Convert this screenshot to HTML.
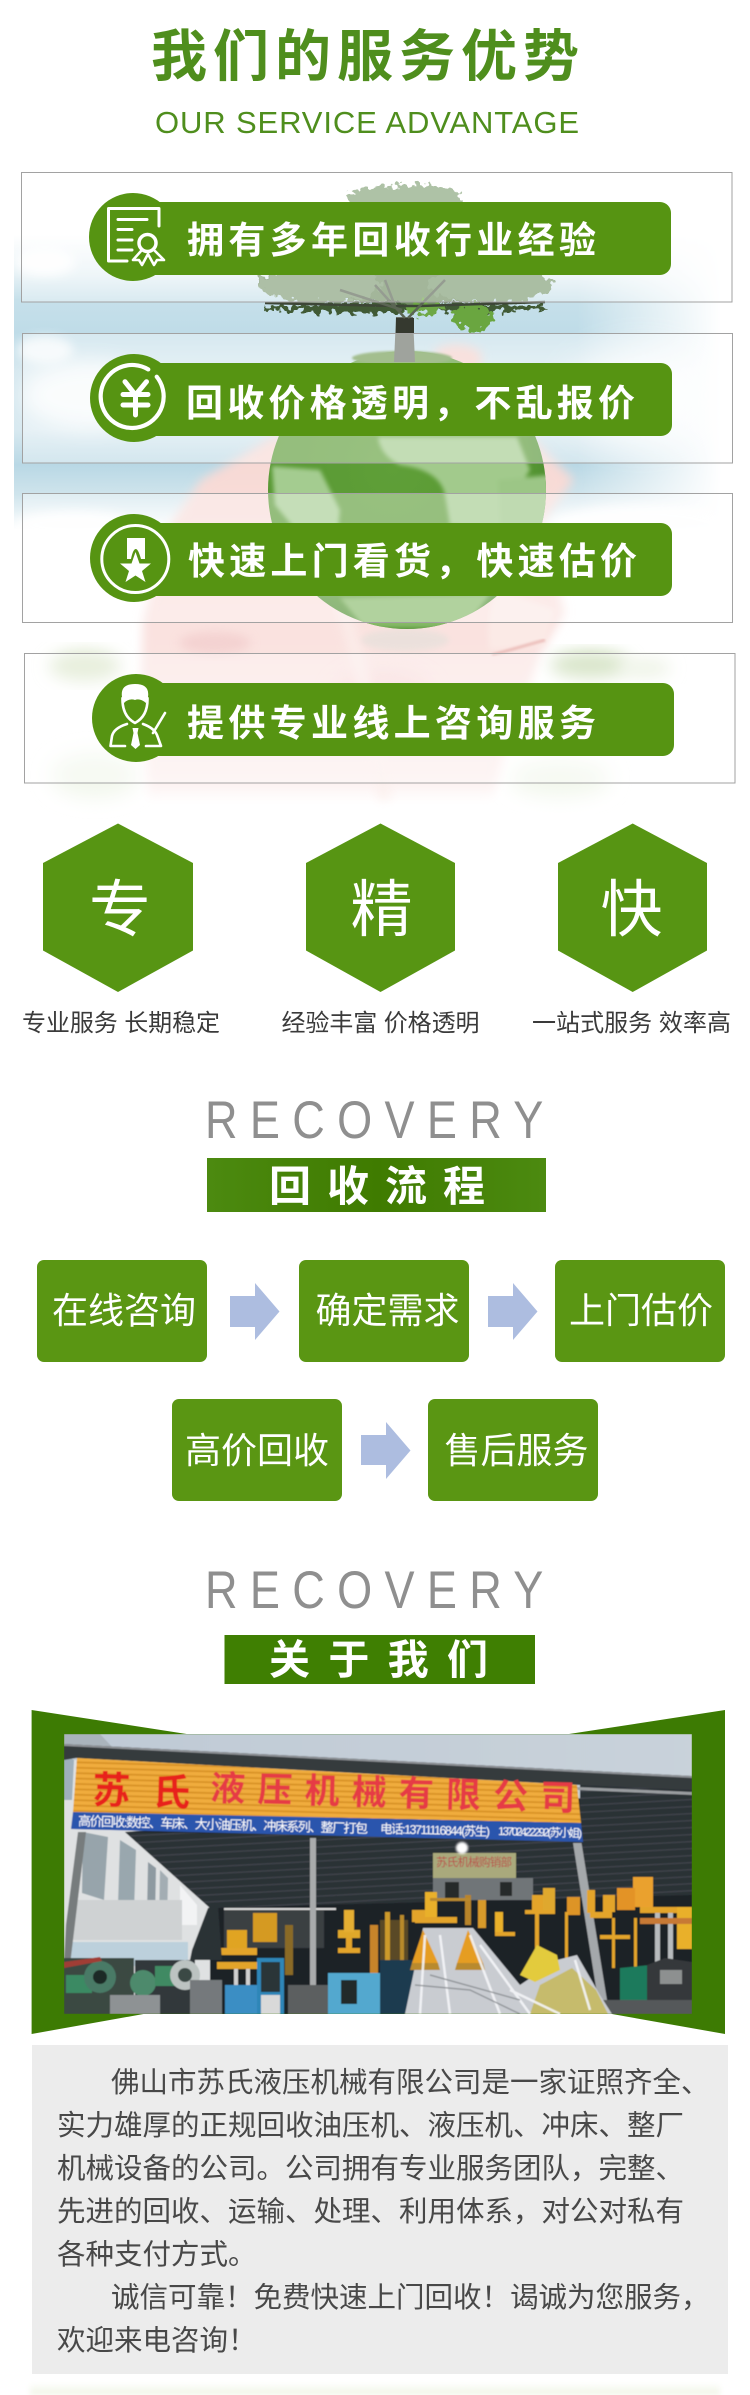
<!DOCTYPE html>
<html lang="zh-CN"><head><meta charset="utf-8"><title>我们的服务优势</title>
<style>
html,body{margin:0;padding:0;background:#fff}
svg{display:block}
text{font-family:"Liberation Sans","Noto Sans CJK SC",sans-serif}
.b{font-weight:700}
.w{fill:#fff}
.p{fill:#484848;font-size:28.5px}
.c{fill:#3a3a3a;font-size:24px}
.pt{fill:#fff;font-size:36px}
.pill{fill:#569412}
.proc{fill:#5a9613}
.arr{fill:#adbde0}
.hex{fill:#579513}
.box{fill:rgba(255,255,255,.36);stroke:#a2a2a2;stroke-width:1}
.ic{fill:none;stroke:#fff;stroke-linecap:round;stroke-linejoin:round}
</style></head><body>
<svg xmlns="http://www.w3.org/2000/svg" width="750" height="2395" viewBox="0 0 750 2395">
<defs>
<filter id="b3" x="-20%" y="-20%" width="140%" height="140%"><feGaussianBlur stdDeviation="3"/></filter>
<filter id="b5" x="-30%" y="-30%" width="160%" height="160%"><feGaussianBlur stdDeviation="5"/></filter>
<filter id="b8" x="-30%" y="-30%" width="160%" height="160%"><feGaussianBlur stdDeviation="8"/></filter>
<filter id="b10" x="-50%" y="-50%" width="200%" height="200%"><feGaussianBlur stdDeviation="10"/></filter>
<filter id="b20" x="-60%" y="-60%" width="220%" height="220%"><feGaussianBlur stdDeviation="20"/></filter>
<filter id="b1"><feGaussianBlur stdDeviation="1"/></filter>
<filter id="b2" x="-10%" y="-10%" width="120%" height="120%"><feGaussianBlur stdDeviation="2.2"/></filter>
<filter id="b05"><feGaussianBlur stdDeviation=".55"/></filter>
<filter id="rough" x="-10%" y="-30%" width="120%" height="160%">
<feTurbulence type="fractalNoise" baseFrequency=".14" numOctaves="2" seed="4"/>
<feDisplacementMap in="SourceGraphic" scale="16" xChannelSelector="R" yChannelSelector="G"/>
</filter>
<linearGradient id="sky" x1="0" y1="0" x2="0" y2="1">
<stop offset="0" stop-color="#fff"/><stop offset=".135" stop-color="#e6f1f5"/><stop offset=".22" stop-color="#c6e0ea"/><stop offset=".33" stop-color="#bfdce8"/><stop offset=".46" stop-color="#d6e8ef"/><stop offset=".66" stop-color="#d8e9f0"/><stop offset=".78" stop-color="#b9d8e5"/><stop offset=".88" stop-color="#cfe4ec"/><stop offset="1" stop-color="#fff"/>
</linearGradient>
<linearGradient id="hfade" gradientUnits="userSpaceOnUse" x1="14" y1="0" x2="736" y2="0">
<stop offset="0" stop-color="#fff"/><stop offset=".78" stop-color="#fff"/><stop offset=".98" stop-color="#000"/>
</linearGradient>
<mask id="skym" maskUnits="userSpaceOnUse" x="0" y="200" width="750" height="360"><rect x="0" y="200" width="750" height="360" fill="url(#hfade)"/></mask>
<linearGradient id="hand" gradientUnits="userSpaceOnUse" x1="0" y1="340" x2="0" y2="802">
<stop offset="0" stop-color="#f5cfc9"/><stop offset=".35" stop-color="#f8dcd8"/><stop offset=".7" stop-color="#fae3e1"/><stop offset=".95" stop-color="#fcefee"/><stop offset="1" stop-color="#fff"/>
</linearGradient>
<radialGradient id="globe" cx=".45" cy=".42" r=".62">
<stop offset="0" stop-color="#5f9f38"/><stop offset=".75" stop-color="#589833"/><stop offset="1" stop-color="#4a8a30"/>
</radialGradient>
<linearGradient id="ban1" x1="0" y1="0" x2="1" y2="0">
<stop offset="0" stop-color="#4c8a10"/><stop offset=".5" stop-color="#3f7b00"/><stop offset="1" stop-color="#4c8a10"/>
</linearGradient>
<linearGradient id="glow" x1="0" y1="0" x2="0" y2="1">
<stop offset="0" stop-color="#fff"/><stop offset="1" stop-color="#eef3e2"/>
</linearGradient>
<linearGradient id="photosky" x1="0" y1="0" x2="1" y2="0">
<stop offset="0" stop-color="#bfcad6"/><stop offset="1" stop-color="#c9d2da"/>
</linearGradient>
<pattern id="stripes" width="8" height="5.4" patternUnits="userSpaceOnUse" patternTransform="rotate(1.6)">
<rect width="8" height="5.4" fill="#f0ac3c"/><rect y="3.6" width="8" height="1.8" fill="#d99327"/>
</pattern>
<pattern id="ceil" width="8" height="7" patternUnits="userSpaceOnUse" patternTransform="rotate(-3)">
<rect width="8" height="7" fill="#2b3036"/><rect y="5.5" width="8" height="1.5" fill="#3d4248"/>
</pattern>
<clipPath id="photo"><rect x="64" y="1734" width="628" height="280"/></clipPath>
<clipPath id="globeclip"><circle cx="407" cy="490" r="139"/></clipPath>
</defs>

<rect width="750" height="2395" fill="#fff"/>

<!-- background scene -->
<g>
<g mask="url(#skym)"><rect x="14" y="235" width="722" height="295" fill="url(#sky)"/></g>
<ellipse cx="45" cy="262" rx="30" ry="14" fill="#fff" opacity=".9" filter="url(#b5)"/>
<ellipse cx="90" cy="395" rx="68" ry="34" fill="#fff" opacity=".8" filter="url(#b10)"/>
<ellipse cx="45" cy="350" rx="28" ry="14" fill="#fff" opacity=".75" filter="url(#b5)"/>
<ellipse cx="640" cy="395" rx="70" ry="42" fill="#fff" opacity=".8" filter="url(#b20)"/>
<ellipse cx="75" cy="525" rx="60" ry="14" fill="#fff" opacity=".9" filter="url(#b5)"/>
<ellipse cx="640" cy="525" rx="90" ry="20" fill="#fff" opacity=".9" filter="url(#b5)"/>
<!-- distant trees -->
<ellipse cx="85" cy="666" rx="36" ry="15" fill="#dbe6ca" filter="url(#b8)"/>
<ellipse cx="590" cy="665" rx="40" ry="13" fill="#c4d8ad" filter="url(#b8)"/>
<ellipse cx="645" cy="668" rx="26" ry="10" fill="#e6eedb" filter="url(#b8)"/>
<ellipse cx="95" cy="775" rx="44" ry="22" fill="#f2f7ec" filter="url(#b10)"/>
<ellipse cx="560" cy="778" rx="50" ry="18" fill="#f2f7ec" filter="url(#b10)"/>
<!-- hand -->
<path d="M148,800 L141,680 L143,620 L167,530 L201,480 L273,437 L435,420 L435,350 Q458,338 481,352 L481,372 L531,437 L574,480 L541,523 L565,613 L541,653 L502,763 L493,800 Z" fill="url(#hand)" filter="url(#b5)"/>
<ellipse cx="215" cy="643" rx="36" ry="11" fill="#f0c8c8" opacity=".6" filter="url(#b5)"/>
<ellipse cx="383" cy="695" rx="50" ry="24" fill="#f5ced0" opacity=".55" filter="url(#b10)"/>
<path d="M340,600 Q370,690 385,800" stroke="#fcefec" stroke-width="14" fill="none" opacity=".7" filter="url(#b5)"/>
<path d="M495,590 Q485,625 490,650 L545,645 L555,610 Q530,600 495,590 Z" fill="#fbeae6" filter="url(#b3)"/>
<path d="M492,655 L545,640" stroke="#ecc0bc" stroke-width="3" fill="none" filter="url(#b1)"/>
<ellipse cx="405" cy="640" rx="44" ry="11" fill="#e2e0da" opacity=".6" filter="url(#b3)"/>
<!-- globe -->
<circle cx="407" cy="490" r="139" fill="url(#globe)"/>
<g clip-path="url(#globeclip)" filter="url(#b2)">
<path d="M378,437 L517,437 L530,470 L510,500 L498,530 L450,525 L445,495 Q440,470 400,465 Q380,455 378,437 Z" fill="#a2ca8c"/>
<path d="M272,466 L320,470 L340,510 L338,530 L300,535 L275,505 Z" fill="#a4cc90"/>
<path d="M498,480 L550,475 L550,530 L500,530 Z" fill="#9cc686"/>
<path d="M340,598 L490,594 L465,628 L365,628 Z" fill="#86b968"/>
</g>
<ellipse cx="402" cy="358" rx="50" ry="7" fill="#6f9a4f" filter="url(#b1)"/>
<!-- tree -->
<path d="M396,317 L394,362 L415,362 L413,317 Z" fill="#6a6f66"/>
<rect x="396" y="318" width="18" height="15" fill="#35392f"/>
<g filter="url(#rough)">
<ellipse cx="405" cy="198" rx="58" ry="13" fill="#80a074"/>
<ellipse cx="405" cy="282" rx="146" ry="21" fill="#6f8d62"/>
<ellipse cx="320" cy="285" rx="60" ry="18" fill="#7f9c74"/>
<ellipse cx="490" cy="285" rx="62" ry="18" fill="#7a9970"/>
<ellipse cx="405" cy="308" rx="143" ry="5" fill="#415a34"/>
<ellipse cx="474" cy="318" rx="20" ry="14" fill="#6ba640"/>
<ellipse cx="425" cy="308" rx="22" ry="7" fill="#6ea845"/>
</g>
<path d="M265,303 L395,306 L420,306 L545,302" stroke="#3d4637" stroke-width="2.5" fill="none"/>
<path d="M405,318 L375,285 M408,318 L445,280 M402,310 L340,290 M395,306 L385,280" stroke="#5a6553" stroke-width="2.5" fill="none"/>
</g>

<!-- heading -->
<text class="b" x="151" y="76" font-size="56" fill="#4f8e1d" textLength="428" lengthAdjust="spacing">我们的服务优势</text>
<text x="155" y="133" font-size="31" fill="#4f8e1d" textLength="424" lengthAdjust="spacing">OUR SERVICE ADVANTAGE</text>

<!-- boxes -->
<rect class="box" x="21.5" y="172.5" width="710.5" height="129.5"/>
<rect class="box" x="22.5" y="333.5" width="710" height="129.5"/>
<rect class="box" x="22.5" y="493.5" width="710" height="129"/>
<rect class="box" x="24.5" y="653.5" width="710.5" height="129.5"/>

<!-- pills -->
<circle class="pill" cx="133" cy="237" r="44"/><rect class="pill" x="140" y="202" width="531" height="73" rx="11"/>
<circle class="pill" cx="134" cy="398" r="44"/><rect class="pill" x="140" y="363" width="532" height="73" rx="11"/>
<circle class="pill" cx="134" cy="558" r="44"/><rect class="pill" x="140" y="523" width="532" height="73" rx="11"/>
<circle class="pill" cx="136" cy="718" r="44"/><rect class="pill" x="142" y="683" width="532" height="73" rx="11"/>

<text class="b w" x="187" y="253" font-size="37" textLength="409" lengthAdjust="spacing">拥有多年回收行业经验</text>
<text class="b w" x="186" y="416" font-size="37" textLength="449" lengthAdjust="spacing">回收价格透明&#65292;不乱报价</text>
<text class="b w" x="188" y="574" font-size="37" textLength="449" lengthAdjust="spacing">快速上门看货&#65292;快速估价</text>
<text class="b w" x="187" y="736" font-size="37" textLength="409" lengthAdjust="spacing">提供专业线上咨询服务</text>

<!-- icon 1 -->
<g class="ic" stroke-width="3">
<path d="M159,226 V208.5 H108.5 V261 H127"/>
<path d="M118,219.5 H147 M118,229.5 H132 M118,240 H132 M118,250 H132"/>
<circle cx="147.5" cy="243" r="8.5" stroke-width="3.5"/>
<path d="M141,251 L133,260 L139,260 L142,265 L148,254 L154,265 L157,260 L164,260 L155,251" stroke-width="2.6"/>
</g>
<!-- icon 2 -->
<g class="ic">
<path d="M156.7,376.7 A31.5,31.5 0 1 1 148.3,369.4" stroke-width="4.2"/>
<path d="M125,381.7 L135.5,395 L146.5,381.7 M123,394.5 H148 M123,405 H148 M135.5,395 V415" stroke-width="5"/>
</g>
<!-- icon 3 -->
<circle class="ic" cx="135.3" cy="559" r="33.5" stroke-width="3"/>
<path class="w" d="M127,538 H145 V559 L141,559 C139,552 137.5,549 135.8,549 C134,549 132.5,552 131,559 L127,559 Z"/>
<polygon class="w" points="135.5,552 139.5,563.5 151,563.5 142,571 145.5,582 135.5,575.5 125.5,582 129,571 120,563.5 131.5,563.5"/>
<!-- icon 4 -->
<path class="w" d="M122,697 Q120,684 135,684 Q150,684 148,697 L146,703 Q140,698 135,700 Q129,698 124,703 Z"/>
<g class="ic" stroke-width="2.6">
<path d="M122.5,698 Q122,716 135,723 Q148,716 147.5,698"/>
<path d="M127,724 Q114,728 112,736 L110.5,746 H125 M143,724 Q154,728 157,735 L161,746 H146"/>
<path d="M153,733 L165,713"/>
</g>
<polygon class="w" points="132.5,728 138.5,728 137.5,733 140,745 135.5,749 131,745 133.5,733"/>

<!-- hexagons -->
<polygon class="hex" points="118,823.5 193,863 193,950.5 118,992 43,950.5 43,863"/>
<polygon class="hex" points="380.5,823.5 455,863 455,950.5 380.5,992 306,950.5 306,863"/>
<polygon class="hex" points="632.7,823.5 707,863 707,950.5 632.7,992 558,950.5 558,863"/>
<text class="w" x="120" y="931" font-size="62" text-anchor="middle">专</text>
<text class="w" x="381.5" y="931" font-size="62" text-anchor="middle">精</text>
<text class="w" x="631.5" y="931" font-size="62" text-anchor="middle">快</text>
<text class="c" x="22" y="1031" textLength="198" lengthAdjust="spacing">专业服务 长期稳定</text>
<text class="c" x="281.5" y="1031" textLength="198" lengthAdjust="spacing">经验丰富 价格透明</text>
<text class="c" x="532" y="1031" textLength="199" lengthAdjust="spacing">一站式服务 效率高</text>

<!-- section 1 -->
<text transform="translate(205,1138) scale(.85,1)" font-size="53" fill="#8f8f8f" textLength="398" lengthAdjust="spacing">RECOVERY</text>
<rect x="207" y="1158" width="339" height="54" fill="url(#ban1)"/>
<text class="b w" x="269" y="1201" font-size="42" textLength="216" lengthAdjust="spacing">回收流程</text>

<rect class="proc" x="37" y="1260" width="170" height="102" rx="7"/>
<rect class="proc" x="299" y="1260" width="170" height="102" rx="7"/>
<rect class="proc" x="555" y="1260" width="170" height="102" rx="7"/>
<rect class="proc" x="172" y="1399" width="170" height="102" rx="7"/>
<rect class="proc" x="428" y="1399" width="170" height="102" rx="7"/>
<text class="pt" x="52" y="1323" textLength="144" lengthAdjust="spacing">在线咨询</text>
<text class="pt" x="315.5" y="1323" textLength="144" lengthAdjust="spacing">确定需求</text>
<text class="pt" x="569" y="1323" textLength="144" lengthAdjust="spacing">上门估价</text>
<text class="pt" x="185" y="1463" textLength="144" lengthAdjust="spacing">高价回收</text>
<text class="pt" x="444.5" y="1463" textLength="144" lengthAdjust="spacing">售后服务</text>
<polygon class="arr" points="230,1296 255,1296 255,1283 279.5,1311.5 255,1340 255,1327 230,1327"/>
<polygon class="arr" points="488,1296 513,1296 513,1283 537.5,1311.5 513,1340 513,1327 488,1327"/>
<polygon class="arr" points="361,1435 386,1435 386,1422 410.5,1450.5 386,1479 386,1465 361,1465"/>

<!-- section 2 -->
<text transform="translate(205,1608) scale(.85,1)" font-size="53" fill="#8f8f8f" textLength="398" lengthAdjust="spacing">RECOVERY</text>
<rect x="224.5" y="1635" width="310.5" height="49" fill="#3f7f02"/>
<text class="b w" x="269" y="1674" font-size="41" textLength="219" lengthAdjust="spacing">关于我们</text>

<polygon points="31.6,1710 186.6,1734 569,1734 725,1710 725,2034 612,2014 143.5,2014 31.6,2034" fill="#3d7b03"/>

<!-- photo -->
<g clip-path="url(#photo)">
<g filter="url(#b05)">
<rect x="64" y="1734" width="628" height="280" fill="url(#photosky)"/>
<!-- left building -->
<rect x="64" y="1760" width="150" height="254" fill="#dfe1e2"/>
<polygon points="64,1734 100,1734 115,1750 64,1750" fill="#aab4bc"/>
<polygon points="64,1755 74,1760 72,1800 64,1800" fill="#9fb0bc"/>
<polygon points="180,1885 197,1905 197,1925 180,1925" fill="#f2f3f4"/>
<polygon points="83,1832 108,1837 104,1900 82,1893" fill="#97a4ab"/>
<polygon points="120,1840 136,1850 134,1912 118,1905" fill="#99a7ae"/>
<polygon points="148,1862 156,1868 155,1920 147,1916" fill="#8e9aa1"/>
<polygon points="160,1870 168,1878 167,1925 159,1922" fill="#a3adb3"/>
<rect x="72" y="1900" width="110" height="40" fill="#cfd2d3"/>
<rect x="68" y="1942" width="120" height="24" fill="#bcd0dc"/>
<!-- interior -->
<polygon points="125,1832 692,1790 692,2014 210,2014 210,1908" fill="#1e2226"/>
<polygon points="125,1832 210,1908 692,1895 692,1780 580,1780 580,1838" fill="url(#ceil)"/>
<rect x="224" y="1908" width="100" height="40" fill="#3a3f42"/>
<rect x="224" y="1908" width="112" height="2" fill="#d8d8d8"/>
<!-- roof -->
<polygon points="64,1744 692,1776 692,1790 580,1785 76,1758 64,1760" fill="#363a3e"/>
<polygon points="64,1744 692,1776 692,1778 64,1746" fill="#8d9195"/>
<polygon points="577,1787 692,1792 692,1795 577,1790" fill="#9a9da0"/>
<!-- sign -->
<polygon points="77,1758 577,1785 581,1823 73,1812" fill="url(#stripes)"/>
<text class="b" transform="translate(92,1803) rotate(1.8)" font-size="38" fill="#e8201c" textLength="98" lengthAdjust="spacing">苏氏</text>
<text class="b" transform="translate(210,1800) rotate(1.6)" font-size="35" fill="#e63a45" textLength="365" lengthAdjust="spacing">液压机械有限公司</text>
<polygon points="73,1812 581,1823 583,1842 71,1829" fill="#2b55ad"/>
<text class="w" transform="translate(78,1825.5) rotate(1.5)" font-size="13" textLength="290" lengthAdjust="spacing">高价回收:数控、车床、大小油压机、冲床系列、整厂打包</text>
<text class="w" transform="translate(380,1833) rotate(1.5)" font-size="12.5" textLength="110" lengthAdjust="spacing">电话:13711116844(苏生)</text>
<text class="w" transform="translate(498,1835) rotate(1.5)" font-size="11.5" textLength="84" lengthAdjust="spacing">13702422292(苏小姐)</text>
<!-- pillars -->
<polygon points="78,1832 66,1925 64,1965 70,1965 86,1832" fill="#777c7d"/>
<rect x="310" y="1838" width="6" height="176" fill="#a9abac"/>
<polygon points="573,1843 581.5,1843 607,2000 598,2000" fill="#a4a8ab"/>
<!-- shop sign -->
<rect x="433" y="1878" width="100" height="22" fill="#6f7478"/>
<rect x="445" y="1882" width="14" height="16" fill="#26292c"/>
<rect x="500" y="1882" width="12" height="14" fill="#26292c"/>
<rect x="433" y="1853" width="83" height="25" fill="#a9a97c"/>
<text x="436" y="1866" font-size="11.5" fill="#b8504a" textLength="76" lengthAdjust="spacing">苏氏机械购销部</text>
<circle cx="462" cy="1848" r="6" fill="#fff" filter="url(#b1)"/>
<!-- machines -->
<g fill="#e3a42a">
<rect x="380" y="1920" width="28" height="50" fill="#5a4a26"/>
<rect x="385" y="1912" width="5" height="60" fill="#cc9a2a"/>
<rect x="400" y="1915" width="4" height="50" fill="#b88a2c"/>
<rect x="425" y="1892" width="12" height="26" fill="#e9b02a"/>
<rect x="415" y="1917" width="42" height="6"/>
<rect x="412" y="1910" width="13" height="12"/>
<rect x="465" y="1895" width="6" height="30" fill="#b7842a"/>
<rect x="478" y="1900" width="8" height="28" fill="#d79a2a"/>
<rect x="633" y="1877" width="20" height="30" fill="#eaa12d"/>
<rect x="617" y="1888" width="18" height="22" fill="#e39326"/>
<rect x="640" y="1907" width="37" height="6"/>
<rect x="677" y="1907" width="15" height="42" fill="#e9b02a"/>
<rect x="543" y="1888" width="12" height="22" fill="#dfa82e"/>
<rect x="532" y="1895" width="11" height="18"/>
<rect x="567" y="1897" width="13" height="18" fill="#dd9426"/>
<rect x="587" y="1890" width="8" height="23"/>
<rect x="590" y="1912" width="22" height="6"/>
<rect x="603" y="1895" width="12" height="17"/>
<rect x="495" y="1912" width="8" height="21" fill="#e9b02a"/>
<rect x="495" y="1932" width="20" height="4"/>
<rect x="525" y="1910" width="30" height="4"/>
<rect x="535" y="1912" width="4" height="50"/>
<rect x="565" y="1912" width="3" height="50"/>
<rect x="600" y="1935" width="30" height="4"/>
<rect x="612" y="1918" width="3" height="50"/>
<rect x="634" y="1918" width="3" height="50"/>
<rect x="430" y="1898" width="40" height="3" fill="#b9892f"/>
<rect x="227" y="1930" width="20" height="18" fill="#e0a420"/>
<rect x="217" y="1948" width="40" height="7"/>
<rect x="217" y="1962" width="40" height="7"/>
<rect x="253" y="1913" width="24" height="29" fill="#d59a22"/>
<rect x="285" y="1925" width="8" height="50" fill="#8a6a28"/>
<rect x="338" y="1930" width="22" height="8" fill="#e0a82c"/>
<rect x="344" y="1910" width="10" height="22" fill="#e5ae32"/>
<rect x="338" y="1948" width="22" height="5"/>
<rect x="346" y="1938" width="6" height="10"/>
<rect x="370" y="1925" width="8" height="48" fill="#c8842a"/>
<rect x="655" y="1913" width="5" height="60" fill="#b7bbbd"/>
<rect x="668" y="1913" width="5" height="60" fill="#b7bbbd"/>
<rect x="640" y="1918" width="52" height="6" fill="#c77a35"/>
</g>
<rect x="234" y="1969" width="4" height="45" fill="#d0d0d0"/>
<rect x="246" y="1969" width="4" height="45" fill="#d0d0d0"/>
<rect x="225" y="1985" width="32" height="29" fill="#3a8ec4"/>
<rect x="257" y="1958" width="27" height="56" fill="#2f86b8"/>
<rect x="261" y="1962" width="19" height="30" fill="#2a3538"/>
<rect x="261" y="1995" width="19" height="19" fill="#d9d9d9"/>
<rect x="328" y="1973" width="52" height="41" fill="#53a8cf"/>
<rect x="341" y="1980" width="16" height="24" fill="#20292c"/>
<rect x="288" y="1985" width="40" height="29" fill="#5b5f60"/>
<rect x="380" y="1960" width="40" height="54" fill="#1d3a4f"/>
<!-- green presses -->
<rect x="64" y="1958" width="70" height="56" fill="#3a4a42"/>
<rect x="66" y="1975" width="26" height="18" fill="#3a8a63"/>
<circle cx="100" cy="1977" r="16" fill="#4a7a66"/><circle cx="100" cy="1977" r="7" fill="#1f2a26"/>
<rect x="135" y="1960" width="60" height="54" fill="#30373a"/>
<circle cx="143" cy="1983" r="13" fill="#4d8a6c"/>
<rect x="155" y="1966" width="20" height="20" fill="#3f8a63"/>
<circle cx="185" cy="1975" r="15" fill="#bcc3c1"/><circle cx="185" cy="1975" r="7" fill="#3b4a45"/>
<polygon points="64,1962 100,1957 102,1961 64,1968" fill="#a03c34"/>
<rect x="110" y="1995" width="50" height="19" fill="#8e9294"/>
<rect x="190" y="1980" width="32" height="34" fill="#74797b"/>
<polygon points="192,1950 208,1908 218,1905 222,1960 190,1960" fill="#2a3034"/>
<!-- right machines -->
<polygon points="620,1968 650,1965 650,2014 620,2014" fill="#1f7a5c"/>
<polygon points="647,1965 665,1958 692,1962 692,2014 647,2014" fill="#34383a"/>
<rect x="660" y="1970" width="22" height="14" fill="#8d9090"/>
<rect x="600" y="2000" width="92" height="14" fill="#55585a"/>
<!-- plastic sheet -->
<polygon points="405,2014 423,1928 473,1928 520,1985 557,1960 577,1955 600,1995 612,2014" fill="#c9ccd1"/>
<polygon points="423,1930 412,1963 438,1963" fill="#e59d24"/>
<polygon points="468,1930 457,1963 483,1963" fill="#e59d24"/>
<polygon points="412,1963 438,1963 440,1970 410,1970" fill="#b98a2e"/>
<polygon points="457,1963 483,1963 485,1970 455,1970" fill="#b98a2e"/>
<polygon points="520,1975 537,1945 557,1955 560,1970 535,1982" fill="#e3cb3c"/>
<polygon points="530,2014 540,1985 572,1968 596,1990 608,2014" fill="#c6bb6c"/>
<path d="M425,1935 L420,2014 M440,1935 L450,2014 M470,1935 L500,2014 M480,1945 L530,2014 M510,1990 L560,2014 M575,1960 L590,2010" stroke="#f4f5f7" stroke-width="2.5" fill="none" opacity=".9"/>
<path d="M415,1985 L470,1990 L520,2014 M430,1975 L520,2000" stroke="#7f8388" stroke-width="1.5" fill="none" opacity=".7"/>
</g>
</g>

<!-- about text -->
<rect x="32" y="2045" width="696" height="329" fill="#ececec"/>
<text class="p" x="111" y="2092">佛山市苏氏液压机械有限公司是一家证照齐全、</text>
<text class="p" x="57" y="2135">实力雄厚的正规回收油压机、液压机、冲床、整厂</text>
<text class="p" x="57" y="2178">机械设备的公司。公司拥有专业服务团队&#65292;完整、</text>
<text class="p" x="57" y="2221">先进的回收、运输、处理、利用体系&#65292;对公对私有</text>
<text class="p" x="57" y="2264">各种支付方式。</text>
<text class="p" x="111" y="2307">诚信可靠&#65281;免费快速上门回收&#65281;谒诚为您服务&#65292;</text>
<text class="p" x="57" y="2350">欢迎来电咨询&#65281;</text>

<!-- bottom glow -->
<rect x="30" y="2383" width="690" height="12" fill="url(#glow)" filter="url(#b3)"/>
</svg>
</body></html>
